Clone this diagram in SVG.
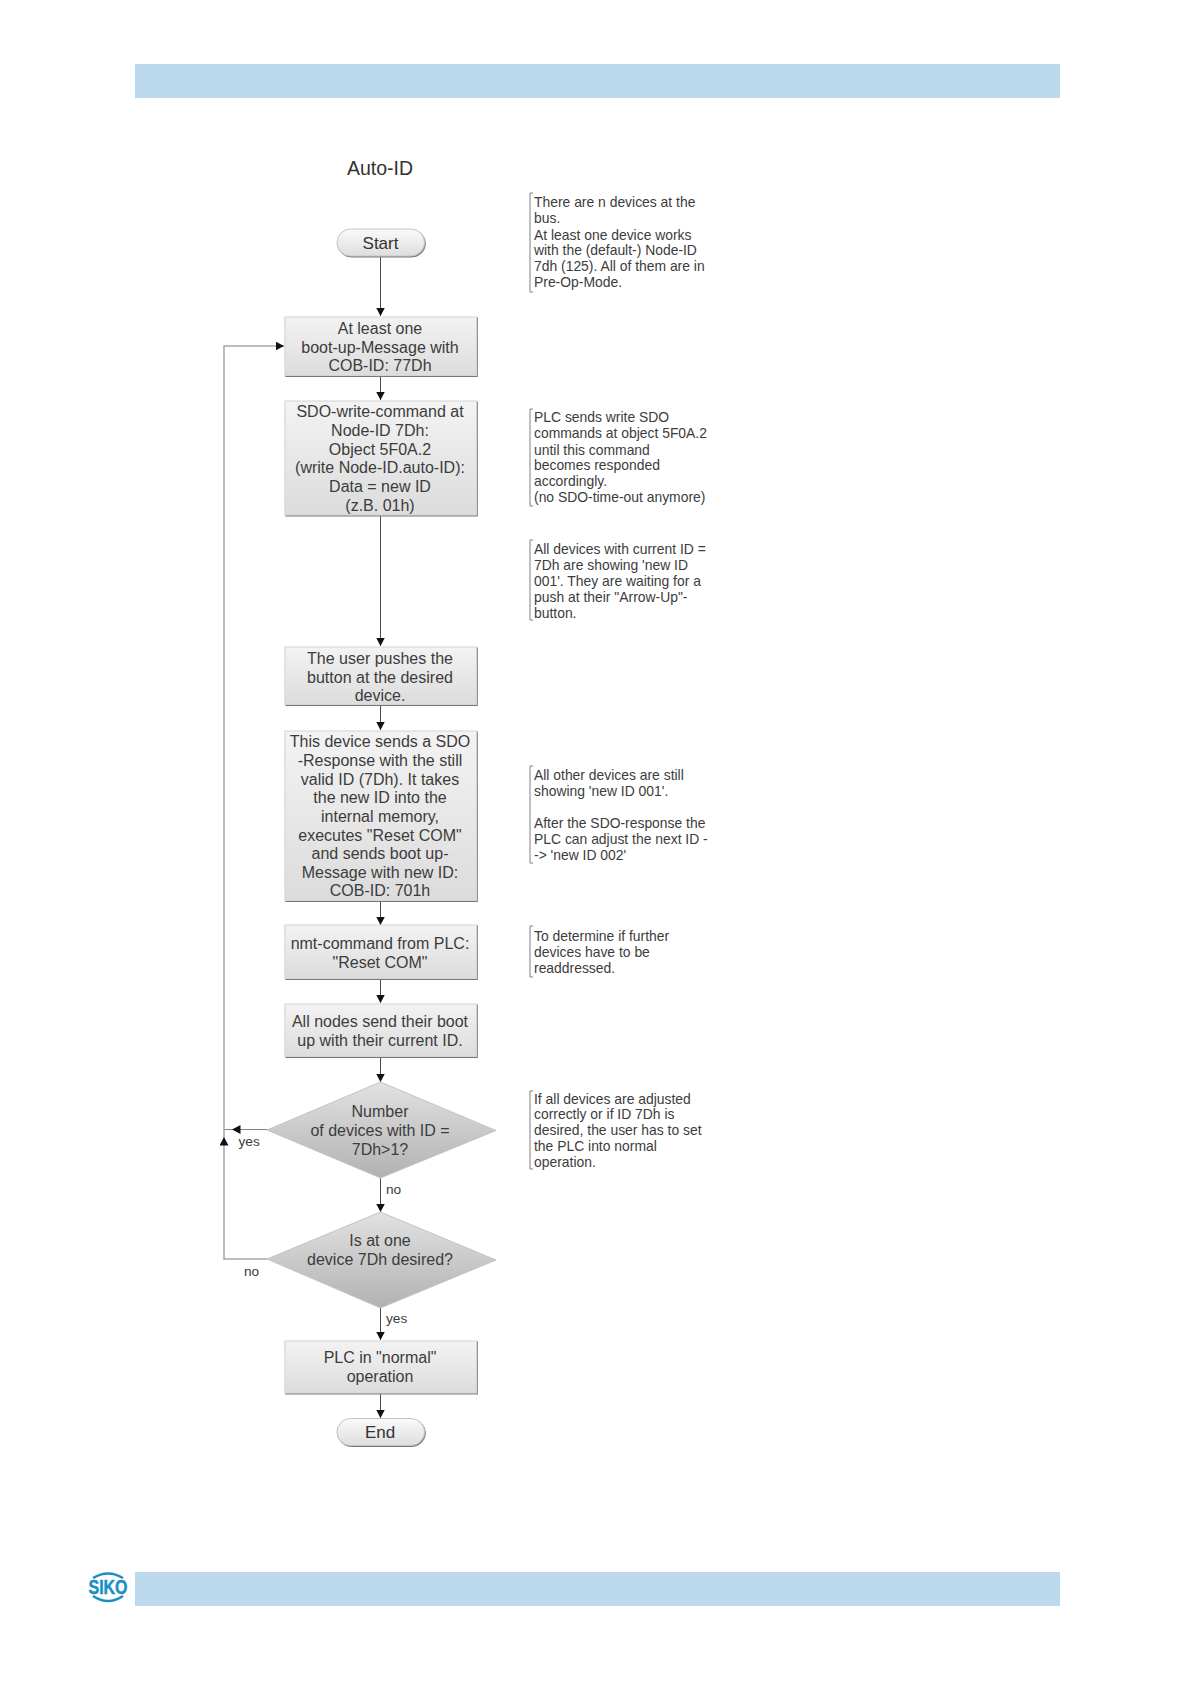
<svg xmlns="http://www.w3.org/2000/svg" width="1191" height="1684" viewBox="0 0 1191 1684">
<style>
.n{font:16px "Liberation Sans",Arial,sans-serif;fill:#3c3c3c;text-anchor:middle}
.s{font:13.900px "Liberation Sans",Arial,sans-serif;fill:#3c3c3c}
.l{font:13.700px "Liberation Sans",Arial,sans-serif;fill:#3c3c3c}
.b{fill:url(#g);stroke:#d4d4d4;stroke-width:1;filter:url(#sh)}
.t{fill:url(#tg);stroke:#c4c4c4;stroke-width:1;filter:url(#sh)}
.tt{font:17px "Liberation Sans",Arial,sans-serif;fill:#333;text-anchor:middle}
.c{fill:none;stroke:#4a4a4a;stroke-width:1}
.f{fill:none;stroke:#a6a6a6;stroke-width:1.500}
.k{fill:none;stroke:#808080;stroke-width:1}
</style>
<defs>
<linearGradient id="g" x1="0" y1="0" x2="0" y2="1"><stop offset="0" stop-color="#f3f3f3"/><stop offset="1" stop-color="#dcdcdc"/></linearGradient>
<linearGradient id="tg" x1="0" y1="0" x2="0" y2="1"><stop offset="0" stop-color="#fafafa"/><stop offset="1" stop-color="#dedede"/></linearGradient>
<linearGradient id="d" x1="0" y1="0" x2="0" y2="1"><stop offset="0" stop-color="#e2e2e2"/><stop offset="1" stop-color="#b2b2b2"/></linearGradient>
<filter id="sh" x="-5%" y="-5%" width="112%" height="118%"><feDropShadow dx="0.800" dy="1" stdDeviation="0.500" flood-color="#777"/></filter>
<marker id="a" markerWidth="10" markerHeight="10" refX="8.500" refY="4.500" orient="auto" markerUnits="userSpaceOnUse"><path d="M0 0L8.500 4.500L0 9z" fill="#111"/></marker>
</defs>
<rect x="135" y="64" width="925" height="34" fill="#bcd9ee"/>
<rect x="135" y="1572" width="925" height="34" fill="#bcd9ee"/>
<g id="logo"><text x="108" y="1594" font-family="Liberation Sans,sans-serif" font-weight="bold" font-size="21" fill="#1c8ec4" stroke="#1c8ec4" stroke-width="0.500" text-anchor="middle" textLength="39" lengthAdjust="spacingAndGlyphs">SIKO</text><path d="M93 1578Q108 1569 123 1578M93 1596Q108 1606 123 1596" fill="none" stroke="#1c8ec4" stroke-width="2.500"/></g>
<text x="380" y="175" font-family="Liberation Sans,sans-serif" font-size="19.500" fill="#333" text-anchor="middle">Auto-ID</text>
<g id="connectors">
<path class="c" d="M380.500 257V316" marker-end="url(#a)"/>
<path class="c" d="M380.500 376V400" marker-end="url(#a)"/>
<path class="c" d="M380.500 516V646" marker-end="url(#a)"/>
<path class="c" d="M380.500 705V730" marker-end="url(#a)"/>
<path class="c" d="M380.500 901V925" marker-end="url(#a)"/>
<path class="c" d="M380.500 979V1003" marker-end="url(#a)"/>
<path class="c" d="M380.500 1057V1082" marker-end="url(#a)"/>
<path class="c" d="M380.500 1178V1212" marker-end="url(#a)"/>
<path class="c" d="M380.500 1308V1340" marker-end="url(#a)"/>
<path class="c" d="M380.500 1393V1418" marker-end="url(#a)"/>
<path class="k" d="M267 1129.500H232" marker-end="url(#a)"/>
<path class="k" d="M232 1129.500H224"/>
<path class="f" d="M267 1259H224V1137" marker-end="url(#a)"/>
<path class="f" d="M224 1137V346H284" marker-end="url(#a)"/>
</g>
<g id="start"><rect class="t" x="337" y="229" width="87.500" height="27" rx="13.500"/><text class="tt" x="380.500" y="249">Start</text></g>
<g id="n1"><rect class="b" x="285" y="317" width="191.500" height="58.500"/><text class="n"><tspan x="380" y="334">At least one</tspan><tspan x="380" y="352.500">boot-up-Message with</tspan><tspan x="380" y="371">COB-ID: 77Dh</tspan></text></g>
<g id="n2"><rect class="b" x="285" y="401" width="191.500" height="114"/><text class="n"><tspan x="380" y="417">SDO-write-command at</tspan><tspan x="380" y="436">Node-ID 7Dh:</tspan><tspan x="380" y="454.500">Object 5F0A.2</tspan><tspan x="380" y="473">(write Node-ID.auto-ID):</tspan><tspan x="380" y="492">Data = new ID</tspan><tspan x="380" y="510.500">(z.B. 01h)</tspan></text></g>
<g id="n3"><rect class="b" x="285" y="647" width="191.500" height="57.500"/><text class="n"><tspan x="380" y="664">The user pushes the</tspan><tspan x="380" y="683">button at the desired</tspan><tspan x="380" y="701">device.</tspan></text></g>
<g id="n4"><rect class="b" x="285" y="731" width="191.500" height="169.500"/><text class="n"><tspan x="380" y="747">This device sends a SDO</tspan><tspan x="380" y="766">-Response with the still</tspan><tspan x="380" y="784.500">valid ID (7Dh). It takes</tspan><tspan x="380" y="803">the new ID into the</tspan><tspan x="380" y="822">internal memory,</tspan><tspan x="380" y="840.500">executes "Reset COM"</tspan><tspan x="380" y="859">and sends boot up-</tspan><tspan x="380" y="877.500">Message with new ID:</tspan><tspan x="380" y="896">COB-ID: 701h</tspan></text></g>
<g id="n5"><rect class="b" x="285" y="925" width="191.500" height="53.500"/><text class="n"><tspan x="380" y="949">nmt-command from PLC:</tspan><tspan x="380" y="967.500">"Reset COM"</tspan></text></g>
<g id="n6"><rect class="b" x="285" y="1004" width="191.500" height="52.500"/><text class="n"><tspan x="380" y="1027">All nodes send their boot</tspan><tspan x="380" y="1046">up with their current ID.</tspan></text></g>
<g id="d1"><polygon points="380.500,1082 496,1130.500 380.500,1178 267,1130" fill="url(#d)" stroke="#c4c4c4"/><text class="n"><tspan x="380" y="1117">Number</tspan><tspan x="380" y="1136">of devices with ID =</tspan><tspan x="380" y="1155">7Dh&gt;1?</tspan></text></g>
<g id="d2"><polygon points="380.500,1212 496,1260 380.500,1308 267,1259" fill="url(#d)" stroke="#c4c4c4"/><text class="n"><tspan x="380" y="1246">Is at one</tspan><tspan x="380" y="1265">device 7Dh desired?</tspan></text></g>
<g id="n7"><rect class="b" x="285" y="1341" width="191.500" height="52"/><text class="n"><tspan x="380" y="1363">PLC in "normal"</tspan><tspan x="380" y="1382">operation</tspan></text></g>
<g id="end"><rect class="t" x="337" y="1418.500" width="87.500" height="27" rx="13.500"/><text class="tt" x="380" y="1438">End</text></g>
<g id="labels">
<text class="l" x="238.500" y="1146">yes</text><text class="l" x="386" y="1194">no</text><text class="l" x="244" y="1276">no</text><text class="l" x="386" y="1323">yes</text>
</g>
<g id="notes">
<path class="k" d="M533 193H530V292H533M533 409H530V506H533M533 540H530V620H533M533 766H530V863H533M533 926H530V977H533M533 1091H530V1169H533"/>
<text class="s"><tspan x="534" y="207">There are n devices at the</tspan><tspan x="534" y="223">bus.</tspan><tspan x="534" y="240">At least one device works</tspan><tspan x="534" y="255">with the (default-) Node-ID</tspan><tspan x="534" y="271">7dh (125). All of them are in</tspan><tspan x="534" y="287">Pre-Op-Mode.</tspan></text>
<text class="s"><tspan x="534" y="422">PLC sends write SDO</tspan><tspan x="534" y="438">commands at object 5F0A.2</tspan><tspan x="534" y="454.500">until this command</tspan><tspan x="534" y="470">becomes responded</tspan><tspan x="534" y="486">accordingly.</tspan><tspan x="534" y="502">(no SDO-time-out anymore)</tspan></text>
<text class="s"><tspan x="534" y="554">All devices with current ID =</tspan><tspan x="534" y="570">7Dh are showing 'new ID</tspan><tspan x="534" y="586">001'. They are waiting for a</tspan><tspan x="534" y="602">push at their "Arrow-Up"-</tspan><tspan x="534" y="618">button.</tspan></text>
<text class="s"><tspan x="534" y="780">All other devices are still</tspan><tspan x="534" y="796">showing 'new ID 001'.</tspan><tspan x="534" y="828">After the SDO-response the</tspan><tspan x="534" y="844">PLC can adjust the next ID -</tspan><tspan x="534" y="860">-&gt; 'new ID 002'</tspan></text>
<text class="s"><tspan x="534" y="941">To determine if further</tspan><tspan x="534" y="957">devices have to be</tspan><tspan x="534" y="973">readdressed.</tspan></text>
<text class="s"><tspan x="534" y="1103.500">If all devices are adjusted</tspan><tspan x="534" y="1119">correctly or if ID 7Dh is</tspan><tspan x="534" y="1135">desired, the user has to set</tspan><tspan x="534" y="1151">the PLC into normal</tspan><tspan x="534" y="1167">operation.</tspan></text>
</g>
</svg>
